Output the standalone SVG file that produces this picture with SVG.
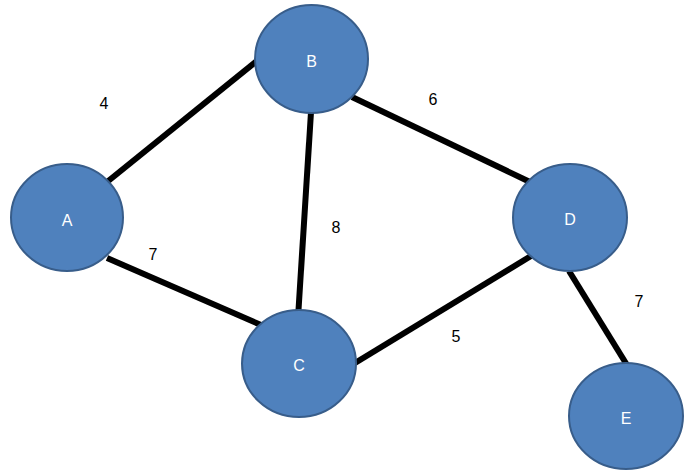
<svg xmlns="http://www.w3.org/2000/svg" width="685" height="476" viewBox="0 0 685 476">
<style>
.node ellipse{fill:#4F81BD;stroke:#385D8A;stroke-width:2}
.node text{fill:#FFFFFF;font-family:"Liberation Sans",Arial,sans-serif;font-size:16px;text-anchor:middle;dominant-baseline:central}
.edges line{stroke:#000000;stroke-width:6}
.lbl{fill:#000000;font-family:"Liberation Sans",Arial,sans-serif;font-size:16px;text-anchor:middle;dominant-baseline:central}
</style>
<rect width="685" height="476" fill="#FFFFFF"/>
<g id="edges" class="edges">
<line x1="107" y1="182" x2="258" y2="60"/>
<line x1="107" y1="258" x2="261" y2="325"/>
<line x1="311" y1="112" x2="298" y2="318"/>
<line x1="352" y1="97" x2="530" y2="182"/>
<line x1="355" y1="363" x2="531" y2="256"/>
<line x1="569" y1="271" x2="627" y2="365"/>
</g>
<g id="edge-labels">
<text class="lbl" x="104" y="103">4</text>
<text class="lbl" x="433" y="99">6</text>
<text class="lbl" x="336" y="227">8</text>
<text class="lbl" x="153" y="254">7</text>
<text class="lbl" x="456" y="336">5</text>
<text class="lbl" x="639" y="301">7</text>
</g>
<g id="node-A" class="node"><ellipse cx="67" cy="217.5" rx="56" ry="53.5"/><text x="67" y="220">A</text></g>
<g id="node-B" class="node"><ellipse cx="311.5" cy="59" rx="56.5" ry="54"/><text x="311.5" y="61">B</text></g>
<g id="node-C" class="node"><ellipse cx="299" cy="363.5" rx="57" ry="53.5"/><text x="299" y="365">C</text></g>
<g id="node-D" class="node"><ellipse cx="570" cy="217.5" rx="57" ry="53.5"/><text x="570" y="219">D</text></g>
<g id="node-E" class="node"><ellipse cx="626" cy="416" rx="57" ry="53"/><text x="626" y="418">E</text></g>
</svg>
